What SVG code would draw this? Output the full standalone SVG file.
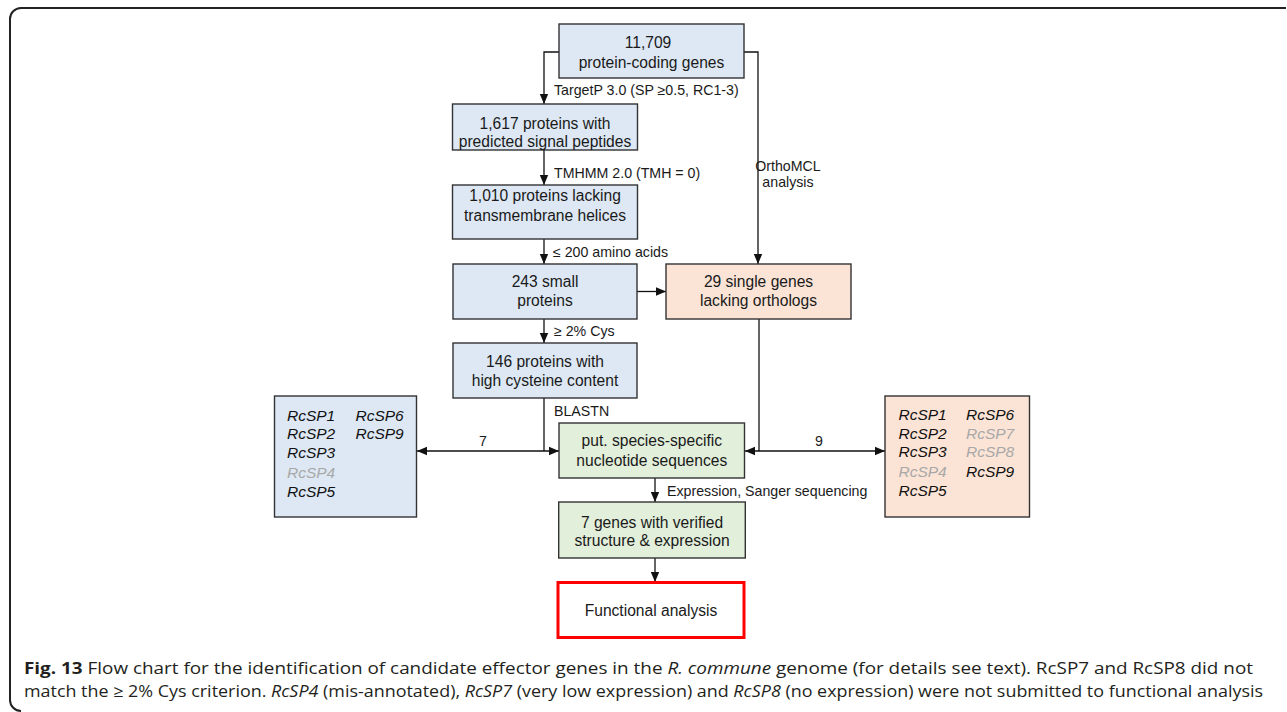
<svg xmlns="http://www.w3.org/2000/svg" width="1287" height="712" viewBox="0 0 1287 712">
<style>
.bx{stroke:#333;stroke-width:1.4}
.blue{fill:#dde8f4}
.peach{fill:#fbe4d6}
.green{fill:#e2efda}
.t{font-family:"Liberation Sans",Arial,sans-serif;font-size:15.6px;fill:#1a1a1a;text-anchor:middle}
.l{font-family:"Liberation Sans",Arial,sans-serif;font-size:14.2px;fill:#1a1a1a}
.g{font-family:"Liberation Sans",Arial,sans-serif;font-size:15.5px;font-style:italic;fill:#111}
.gr{fill:#a8a8a8}
.c{stroke:#111;stroke-width:1.3;fill:none}
.cap{font-family:"Open Sans","Noto Sans",sans-serif;font-size:16.5px;fill:#231f20}
</style>
<defs>
<marker id="ah" markerUnits="userSpaceOnUse" markerWidth="10" markerHeight="10" viewBox="0 0 10 10" refX="10" refY="5" orient="auto-start-reverse">
<path d="M0,0.8 L10,5 L0,9.2 Z" fill="#111"/>
</marker>
</defs>
<path d="M1286,8 H21 A11,11 0 0 0 10,19 V700 A11,11 0 0 0 21,711" fill="none" stroke="#222" stroke-width="2"/>

<g id="connectors">
<path class="c" d="M559,52 H544 V104" marker-end="url(#ah)"/>
<path class="c" d="M544,150 V185" marker-end="url(#ah)"/>
<path class="c" d="M544,239 V264" marker-end="url(#ah)"/>
<path class="c" d="M544,319 V343" marker-end="url(#ah)"/>
<path class="c" d="M637,291.5 H666" marker-end="url(#ah)"/>
<path class="c" d="M744,52 H758 V264" marker-end="url(#ah)"/>
<path class="c" d="M544,398 V451"/>
<path class="c" d="M417,451 H559" marker-start="url(#ah)" marker-end="url(#ah)"/>
<path class="c" d="M759,319 V451"/>
<path class="c" d="M745,451 H885" marker-start="url(#ah)" marker-end="url(#ah)"/>
<path class="c" d="M655,478 V502" marker-end="url(#ah)"/>
<path class="c" d="M655,558 V582" marker-end="url(#ah)"/>
<text class="l" x="554" y="95">TargetP 3.0 (SP ≥0.5, RC1-3)</text>
<text class="l" x="554" y="178">TMHMM 2.0 (TMH = 0)</text>
<text class="l" x="788" y="171" text-anchor="middle">OrthoMCL</text>
<text class="l" x="788" y="187" text-anchor="middle">analysis</text>
<text class="l" x="553" y="257">≤ 200 amino acids</text>
<text class="l" x="554" y="336">≥ 2% Cys</text>
<text class="l" x="554" y="416">BLASTN</text>
<text class="l" x="483" y="446" text-anchor="middle">7</text>
<text class="l" x="819" y="446" text-anchor="middle">9</text>
<text class="l" x="667" y="496">Expression, Sanger sequencing</text>
</g>

<g id="n_genes">
<rect class="bx blue" x="559" y="24" width="185" height="54"/>
<text class="t" x="648" y="48">11,709</text>
<text class="t" x="651.5" y="68">protein-coding genes</text>
</g>
<g id="n_signal">
<rect class="bx blue" x="452.5" y="104" width="185" height="46"/>
<text class="t" x="545" y="129">1,617 proteins with</text>
<text class="t" x="545" y="147">predicted signal peptides</text>
</g>
<g id="n_tm">
<rect class="bx blue" x="452.5" y="185" width="185" height="54"/>
<text class="t" x="545" y="200.5">1,010 proteins lacking</text>
<text class="t" x="545" y="221">transmembrane helices</text>
</g>
<g id="n_small">
<rect class="bx blue" x="453" y="264" width="184" height="55"/>
<text class="t" x="545" y="287">243 small</text>
<text class="t" x="545" y="305.5">proteins</text>
</g>
<g id="n_cys">
<rect class="bx blue" x="453" y="343" width="184" height="55"/>
<text class="t" x="545" y="367">146 proteins with</text>
<text class="t" x="545" y="386">high cysteine content</text>
</g>
<g id="n_single">
<rect class="bx peach" x="666" y="264" width="185" height="55"/>
<text class="t" x="758.5" y="287">29 single genes</text>
<text class="t" x="758.5" y="305.5">lacking orthologs</text>
</g>
<g id="n_left_list">
<rect class="bx blue" x="274.5" y="396" width="142" height="121"/>
<text class="g" x="287" y="420.5">RcSP1</text>
<text class="g" x="287" y="439.3">RcSP2</text>
<text class="g" x="287" y="458.3">RcSP3</text>
<text class="g gr" x="287" y="477.5">RcSP4</text>
<text class="g" x="287" y="496.7">RcSP5</text>
<text class="g" x="355.5" y="420.5">RcSP6</text>
<text class="g" x="355.5" y="439.3">RcSP9</text>
</g>
<g id="n_right_list">
<rect class="bx peach" x="885" y="396" width="144.5" height="121"/>
<text class="g" x="898.5" y="419.5">RcSP1</text>
<text class="g" x="898.5" y="438.5">RcSP2</text>
<text class="g" x="898.5" y="457.3">RcSP3</text>
<text class="g gr" x="898.5" y="476.7">RcSP4</text>
<text class="g" x="898.5" y="495.5">RcSP5</text>
<text class="g" x="966" y="419.5">RcSP6</text>
<text class="g gr" x="966" y="438.5">RcSP7</text>
<text class="g gr" x="966" y="457.3">RcSP8</text>
<text class="g" x="966" y="476.7">RcSP9</text>
</g>
<g id="n_putative">
<rect class="bx green" x="559" y="423" width="185.5" height="55"/>
<text class="t" x="651.8" y="446">put. species-specific</text>
<text class="t" x="651.8" y="466">nucleotide sequences</text>
</g>
<g id="n_verified">
<rect class="bx green" x="558.7" y="502" width="186.6" height="56"/>
<text class="t" x="652" y="527.5">7 genes with verified</text>
<text class="t" x="652" y="546">structure &amp; expression</text>
</g>
<g id="n_functional">
<rect x="558" y="582.5" width="186" height="55" fill="#fff" stroke="#f00" stroke-width="3"/>
<text class="t" x="651" y="616">Functional analysis</text>
</g>

<g id="caption">
<text class="cap" x="24" y="674" textLength="1229" lengthAdjust="spacingAndGlyphs"><tspan font-weight="bold">Fig. 13</tspan> Flow chart for the identification of candidate effector genes in the <tspan font-style="italic">R. commune</tspan> genome (for details see text). RcSP7 and RcSP8 did not</text>
<text class="cap" x="24" y="697" textLength="1239" lengthAdjust="spacingAndGlyphs">match the ≥ 2% Cys criterion. <tspan font-style="italic">RcSP4</tspan> (mis-annotated), <tspan font-style="italic">RcSP7</tspan> (very low expression) and <tspan font-style="italic">RcSP8</tspan> (no expression) were not submitted to functional analysis</text>
</g>
</svg>
